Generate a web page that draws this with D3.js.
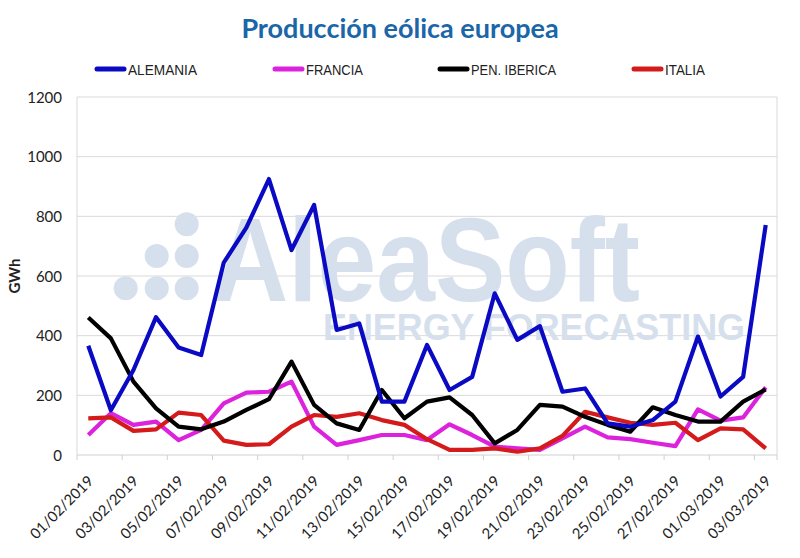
<!DOCTYPE html>
<html><head><meta charset="utf-8">
<script src="https://cdn.jsdelivr.net/npm/d3@7"></script>
<style>body{margin:0;background:#fff}svg{display:block}</style>
</head><body>
<svg id="c" width="800" height="558"></svg>
<script>
const dates = ["01/02/2019","02/02/2019","03/02/2019","04/02/2019","05/02/2019","06/02/2019","07/02/2019","08/02/2019","09/02/2019","10/02/2019","11/02/2019","12/02/2019","13/02/2019","14/02/2019","15/02/2019","16/02/2019","17/02/2019","18/02/2019","19/02/2019","20/02/2019","21/02/2019","22/02/2019","23/02/2019","24/02/2019","25/02/2019","26/02/2019","27/02/2019","28/02/2019","01/03/2019","02/03/2019","03/03/2019"];
const alemania = [366,150,285,462,360,335,645,762,925,687,838,419,441,179,179,369,218,262,542,386,432,212,223,106,95,117,179,397,196,262,771];
const francia  = [67,140,101,112,50,84,173,209,212,246,95,34,50,67,67,50,103,67,28,22,17,56,95,59,53,41,30,153,115,126,227];
const iberica  = [461,391,246,156,95,86,112,151,187,313,168,106,84,218,123,179,193,134,39,84,168,162,128,101,78,160,134,112,112,179,220];
const italia   = [123,126,81,86,142,134,48,34,36,95,134,128,140,117,101,53,17,17,22,11,22,64,145,126,108,101,108,50,89,86,22];
const seriesNames = ["ALEMANIA","FRANCIA","PEN. IBERICA","ITALIA"];
const seriesColors = ["#0a0ac4","#dd22dd","#000000","#d41a1a"];
const yTicks = [0,200,400,600,800,1000,1200];

const series = [alemania, francia, iberica, italia];
const svg = d3.select("#c");
const L = 77, R = 777, T = 97, B = 455;

const x = d3.scaleBand().domain(dates).range([L, R]).paddingInner(0).paddingOuter(0);
const cx = d => x(d) + x.bandwidth() / 2;
const y = d3.scaleLinear().domain([0, 1200]).range([B, T]);

// title
svg.append("text").attr("x", 400).attr("y", 38).attr("text-anchor", "middle")
  .attr("font-family", "Lato, 'Open Sans', sans-serif").attr("font-weight", "bold")
  .attr("font-size", 27).attr("fill", "#1a66a8").text("Producción eólica europea");

// legend
const legX = [95, 273, 438, 632];
const legW = [69, 57, 85, 40];
seriesNames.forEach((n, i) => {
  const g = svg.append("g").attr("transform", `translate(${legX[i]},69)`);
  g.append("line").attr("x1", 2).attr("x2", 29).attr("y1", 0).attr("y2", 0)
    .attr("stroke", seriesColors[i]).attr("stroke-width", 5).attr("stroke-linecap", "round");
  g.append("text").attr("x", 33).attr("y", 5.5).attr("font-family", "'Liberation Sans', sans-serif")
    .attr("font-size", 15).attr("fill", "#222").attr("textLength", legW[i])
    .attr("lengthAdjust", "spacingAndGlyphs").text(n);
});

// gridlines
svg.append("g").selectAll("line").data(yTicks.filter(t => t > 0)).join("line")
  .attr("x1", L).attr("x2", R).attr("y1", d => y(d)).attr("y2", d => y(d))
  .attr("stroke", "#d9d9d9").attr("stroke-width", 1);
svg.append("line").attr("x1", L).attr("x2", L).attr("y1", T).attr("y2", B).attr("stroke", "#d9d9d9");
svg.append("line").attr("x1", R).attr("x2", R).attr("y1", T).attr("y2", B).attr("stroke", "#d9d9d9");

// watermark
const wm = svg.append("g").attr("fill", "#d6e0ed");
[[186.7,224.3],[156.7,256],[186.7,256],[125.7,288.3],[156.7,288.3],[186.7,288.3]].forEach(p =>
  wm.append("circle").attr("cx", p[0]).attr("cy", p[1]).attr("r", 12));
wm.append("text").attr("x", 212).attr("y", 301).attr("font-family", "'Liberation Sans', Arial, sans-serif")
  .attr("font-weight", "bold").attr("font-size", 118).attr("textLength", 428).attr("lengthAdjust", "spacingAndGlyphs").text("AleaSoft");
wm.append("text").attr("x", 323).attr("y", 340).attr("font-family", "'Liberation Sans', Arial, sans-serif")
  .attr("font-weight", "bold").attr("font-size", 36).attr("textLength", 422).attr("lengthAdjust", "spacingAndGlyphs").text("ENERGY FORECASTING");

// y axis labels
svg.append("g").selectAll("text").data(yTicks).join("text")
  .attr("x", 62).attr("y", d => y(d) + 5.5).attr("text-anchor", "end")
  .attr("font-family", "Lato, 'Open Sans', sans-serif").attr("font-size", 15).attr("fill", "#222").text(d => d);
svg.append("text").attr("transform", "translate(20,276) rotate(-90)").attr("text-anchor", "middle")
  .attr("font-family", "Lato, 'Open Sans', sans-serif").attr("font-weight", "bold").attr("font-size", 15).attr("fill", "#222").text("GWh");

// x axis
svg.append("line").attr("x1", L).attr("x2", R).attr("y1", B).attr("y2", B).attr("stroke", "#d0d0d0");
const tickIdx = dates.map((d, i) => i).filter(i => i % 2 === 0);
svg.append("g").selectAll("line").data(tickIdx).join("line")
  .attr("x1", i => x(dates[i])).attr("x2", i => x(dates[i])).attr("y1", B).attr("y2", B + 5).attr("stroke", "#d0d0d0");
svg.append("line").attr("x1", R).attr("x2", R).attr("y1", B).attr("y2", B + 5).attr("stroke", "#d0d0d0");
svg.append("g").selectAll("text").data(tickIdx).join("text")
  .attr("transform", i => `translate(${cx(dates[i]) + 6},${B + 27}) rotate(-45)`)
  .attr("text-anchor", "end").attr("font-family", "Lato, 'Open Sans', sans-serif").attr("font-size", 14.8)
  .attr("fill", "#222").text(i => dates[i]);

// lines
const line = d3.line().x((v, i) => cx(dates[i])).y(v => y(v));
[1, 3, 2, 0].forEach(k => {
  svg.append("path").attr("d", line(series[k])).attr("fill", "none")
    .attr("stroke", seriesColors[k]).attr("stroke-width", 4.2).attr("stroke-linejoin", "round");
});
</script>
</body></html>
